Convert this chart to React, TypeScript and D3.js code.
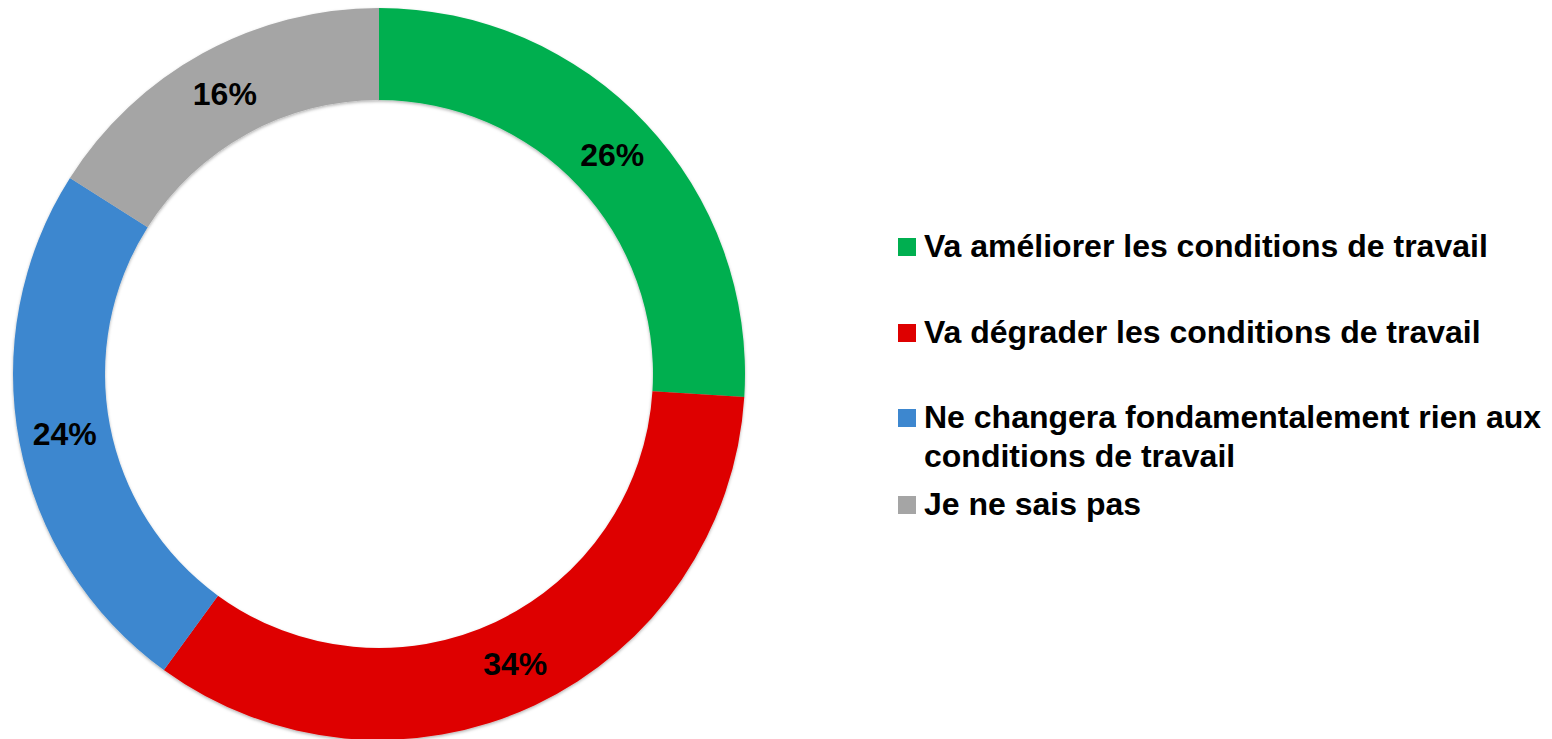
import { useEffect, useRef } from 'react'
import * as d3 from 'd3'

// ── Data ──────────────────────────────────────────────────────────────────
const CATEGORIES = [
  'Va améliorer les conditions de travail',
  'Va dégrader les conditions de travail',
  'Ne changera fondamentalement rien aux conditions de travail',
  'Je ne sais pas',
]
const VALUES = [26, 34, 24, 16]
const COLORS = ['#00AF50', '#DE0000', '#3D87CF', '#A5A5A5']
// legend lines (wrapped like the original)
const LEGEND_LINES = [
  ['Va améliorer les conditions de travail'],
  ['Va dégrader les conditions de travail'],
  ['Ne changera fondamentalement rien aux', 'conditions de travail'],
  ['Je ne sais pas'],
]

const WIDTH = 1552
const HEIGHT = 739
const CX = 379
const CY = 374
const OUTER_R = 366
const INNER_R = 274
const FONT = '"Liberation Sans", Arial, Helvetica, sans-serif'

export default function App() {
  const svgRef = useRef<SVGSVGElement | null>(null)

  useEffect(() => {
    if (!svgRef.current) return
    const svg = d3.select(svgRef.current)
    svg.selectAll('*').remove()

    const defs = svg.append('defs')
    const filter = defs.append('filter').attr('id', 'shadow')
      .attr('x', '-5%').attr('y', '-5%').attr('width', '110%').attr('height', '110%')
    filter.append('feDropShadow')
      .attr('dx', 0).attr('dy', 1.5).attr('stdDeviation', 1.5)
      .attr('flood-color', '#000').attr('flood-opacity', 0.3)

    const data = CATEGORIES.map((c, i) => ({ label: c, value: VALUES[i], color: COLORS[i] }))
    const pie = d3.pie<typeof data[number]>().sort(null).value((d) => d.value)
    const arc = d3.arc<d3.PieArcDatum<typeof data[number]>>()
      .innerRadius(INNER_R).outerRadius(OUTER_R)
    const labelArc = d3.arc<d3.PieArcDatum<typeof data[number]>>()
      .innerRadius((INNER_R + OUTER_R) / 2).outerRadius((INNER_R + OUTER_R) / 2)

    const g = svg.append('g').attr('transform', `translate(${CX},${CY})`)
    const arcs = pie(data)

    g.append('g').attr('filter', 'url(#shadow)')
      .selectAll('path')
      .data(arcs)
      .join('path')
      .attr('d', arc)
      .attr('fill', (d) => d.data.color)

    g.selectAll('text.lbl')
      .data(arcs)
      .join('text')
      .attr('class', 'lbl')
      .attr('transform', (d) => `translate(${labelArc.centroid(d)})`)
      .attr('text-anchor', 'middle')
      .attr('dy', '0.36em')
      .attr('font-family', FONT)
      .attr('font-weight', 'bold')
      .attr('font-size', 32)
      .attr('fill', '#000')
      .text((d) => `${d.data.value}%`)

    // ── Legend ──────────────────────────────────────────────────────────────
    const rowBaselines = [257, 343, 428, 515]
    const legend = svg.append('g')
    LEGEND_LINES.forEach((lines, i) => {
      const base = rowBaselines[i]
      legend.append('rect')
        .attr('x', 898).attr('y', base - 19)
        .attr('width', 18).attr('height', 18)
        .attr('fill', COLORS[i])
      const t = legend.append('text')
        .attr('x', 924).attr('y', base)
        .attr('font-family', FONT)
        .attr('font-weight', 'bold')
        .attr('font-size', 32)
        .attr('fill', '#000')
      lines.forEach((ln, j) => {
        t.append('tspan').attr('x', 924).attr('y', base + j * 39).text(ln)
      })
    })
  }, [])

  return (
    <svg
      ref={svgRef}
      width={WIDTH}
      height={HEIGHT}
      style={{ position: 'absolute', left: 0, top: 0, display: 'block', background: '#fff' }}
    />
  )
}
